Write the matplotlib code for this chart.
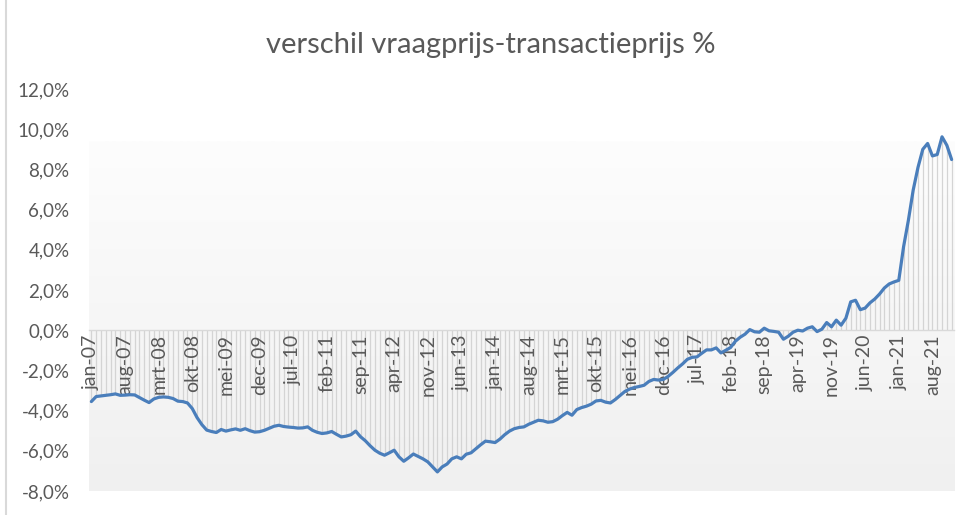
import numpy as np
import matplotlib
matplotlib.use('Agg')
import matplotlib.pyplot as plt
from matplotlib.lines import Line2D
from matplotlib.colors import LinearSegmentedColormap

plt.rcParams['font.family'] = ['Lato', 'DejaVu Sans']

# maandnamen (Nederlands) en periode jan-07 t/m dec-21
maanden = ['jan', 'feb', 'mrt', 'apr', 'mei', 'jun',
           'jul', 'aug', 'sep', 'okt', 'nov', 'dec']
jaren = list(range(2007, 2022))
labels = [f"{m}-{str(j)[2:]}" for j in jaren for m in maanden]

# verschil vraagprijs-transactieprijs (%), per maand
verschil = [
    -3.55, -3.30, -3.27, -3.24, -3.21, -3.17, -3.24, -3.23, -3.21, -3.22,
    -3.35, -3.48, -3.60, -3.42, -3.34, -3.32, -3.34, -3.40, -3.53, -3.55,
    -3.62, -3.90, -4.35, -4.70, -4.97, -5.04, -5.09, -4.94, -5.02, -4.96,
    -4.91, -4.98, -4.90, -5.00, -5.07, -5.05, -4.98, -4.88, -4.78, -4.73,
    -4.79, -4.82, -4.84, -4.87, -4.86, -4.81, -4.98, -5.08, -5.14, -5.11,
    -5.04, -5.18, -5.31, -5.27, -5.20, -5.02, -5.30, -5.50, -5.75, -5.97,
    -6.12, -6.22, -6.10, -5.97, -6.30, -6.52, -6.35, -6.16, -6.28, -6.40,
    -6.55, -6.80, -7.05, -6.80, -6.66, -6.40, -6.30, -6.40, -6.17, -6.10,
    -5.90, -5.70, -5.52, -5.55, -5.59, -5.42, -5.20, -5.02, -4.90, -4.84,
    -4.81, -4.68, -4.58, -4.48, -4.51, -4.58, -4.55, -4.43, -4.25, -4.09,
    -4.23, -3.95, -3.85, -3.78, -3.68, -3.52, -3.49, -3.58, -3.62, -3.45,
    -3.25, -3.05, -2.93, -2.85, -2.80, -2.74, -2.55, -2.45, -2.48, -2.45,
    -2.30, -2.10, -1.88, -1.68, -1.45, -1.35, -1.33, -1.15, -0.98, -0.98,
    -0.88, -1.13, -1.00, -0.86, -0.55, -0.35, -0.20, 0.03, -0.08, -0.10,
    0.10, -0.03, -0.06, -0.10, -0.45, -0.30, -0.10, 0.00, -0.04, 0.10,
    0.17, -0.07, 0.05, 0.38, 0.17, 0.50, 0.25, 0.60, 1.41, 1.49,
    1.02, 1.10, 1.36, 1.55, 1.80, 2.10, 2.30, 2.40, 2.48, 4.15,
    5.47, 6.97, 8.10, 9.00, 9.29, 8.67, 8.74, 9.62, 9.20, 8.49,
]

y_ticks = [-8, -6, -4, -2, 0, 2, 4, 6, 8, 10, 12]

x = np.arange(len(verschil))
y = np.array(verschil)

fig = plt.figure(figsize=(9.67, 5.15), dpi=100)
ax = fig.add_axes([0.092, 0.0466, 0.8946, 0.7806])

# achtergrond verloop
cmap = LinearSegmentedColormap.from_list('bg', ['#f0f0f0', '#fdfdfd'])
grad = np.linspace(0, 1, 256).reshape(-1, 1)
ax.imshow(grad, cmap=cmap, origin='lower', aspect='auto',
          extent=[-0.5, len(x) - 0.5, -8, 9.4], zorder=0)

ax.vlines(x, 0, y, color='#d4d4d4', linewidth=0.9, zorder=1)
ax.plot(x, y, color='#4a7ebb', linewidth=2.3, zorder=3,
        solid_joinstyle='round', solid_capstyle='round')

ax.set_xlim(-0.5, len(x) - 0.5)
ax.set_ylim(-8, 12)

for s in ['top', 'right', 'left']:
    ax.spines[s].set_visible(False)
ax.spines['bottom'].set_position(('data', 0))
ax.spines['bottom'].set_color('#d9d9d9')
ax.spines['bottom'].set_linewidth(1)

ax.set_xticks(x[::7])
ax.set_xticklabels(labels[::7], rotation=90, fontsize=14, color='#595959')
ax.tick_params(axis='x', length=0, pad=3)

ax.set_yticks(y_ticks)
ax.set_yticklabels([f"{v:.1f}%".replace('.', ',') for v in y_ticks],
                   fontsize=13.5, color='#595959')
ax.tick_params(axis='y', length=0, pad=14)

fig.text(0.507, 0.912, 'verschil vraagprijs-transactieprijs %',
         ha='center', va='center', fontsize=21, color='#595959')

fig.add_artist(Line2D([0.006, 0.006], [0, 1], color='#d9d9d9', linewidth=1.5))

fig.savefig('out.png', dpi=100)
